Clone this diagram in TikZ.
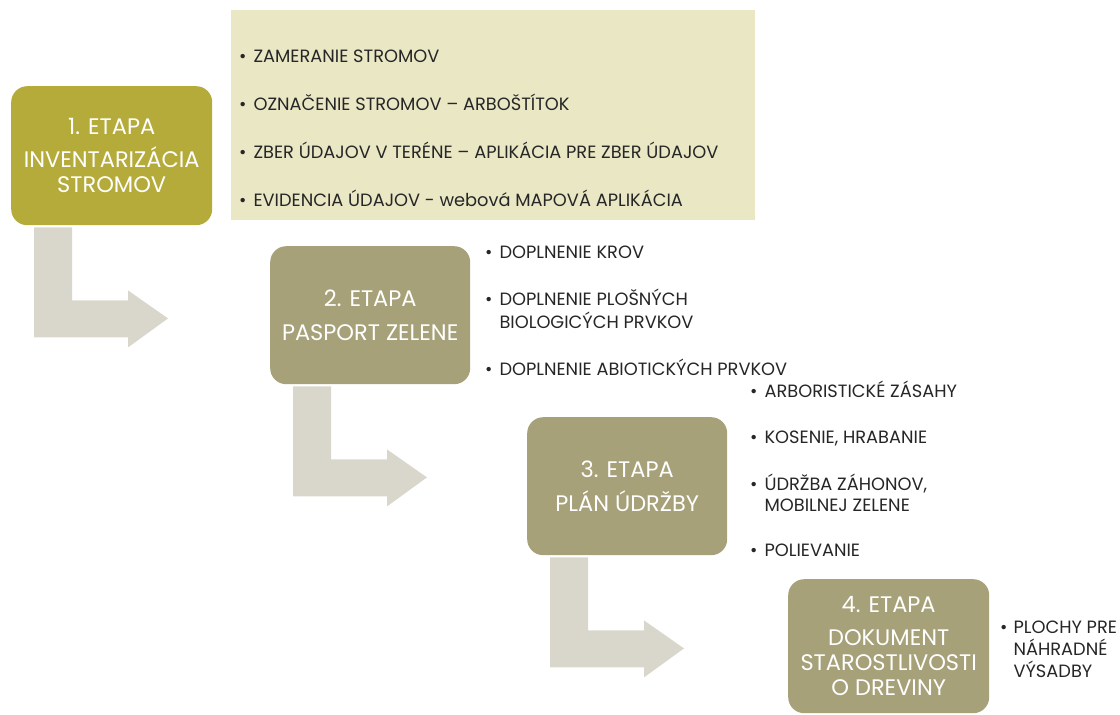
\documentclass[tikz,border=0pt]{standalone}
\usepackage{fontspec}
\setmainfont{Poppins}
\usetikzlibrary{calc}
\definecolor{stageolive}{RGB}{181,171,59}
\definecolor{stagebrown}{RGB}{167,161,121}
\definecolor{panelyellow}{RGB}{234,231,197}
\definecolor{arrowgray}{RGB}{217,215,204}
\definecolor{tasktext}{RGB}{38,38,38}

\begin{document}
\begin{tikzpicture}[x=1pt, y=-1pt,
	stage/.style={rectangle,rounded corners=16pt,fill=stagebrown,text=white,anchor=north west,minimum width=200pt,minimum height=138pt,align=center,inner sep=0pt,font=\fontsize{22.5}{25}\selectfont},
	first_stage/.style={stage,fill=stageolive},
	task_list/.style={anchor=north west,inner sep=0pt,text=tasktext,font=\fontsize{17.8}{21}\selectfont},
	bent_arrow/.style={fill=arrowgray}]
	
	\useasboundingbox (0, 0) rectangle (1120, 715);
	
	\node[fill=panelyellow,anchor=north west,minimum width=524pt,minimum height=210pt,inner sep=0pt] (panel) at (231, 10) {};
	
	\node[first_stage,minimum width=201pt,minimum height=139pt] (s1) at (11, 86) {1. ETAPA\\[8pt]INVENTARIZÁCIA\\STROMOV};
	\node[stage] (s2) at (270, 246) {2. ETAPA\\[9pt]PASPORT ZELENE};
	\node[stage] (s3) at (527, 417) {3. ETAPA\\[9pt]PLÁN ÚDRŽBY};
	\node[stage,minimum width=201pt,minimum height=134pt] (s4) at (788, 579) {4. ETAPA\\[8pt]DOKUMENT\\STAROSTLIVOSTI\\O DREVINY};
	
	\node[task_list] (l1) at (239, 48) {\begin{tabular}{@{}l@{\hspace{7pt}}l@{}}
		• & ZAMERANIE STROMOV\\[25pt]
		• & OZNAČENIE STROMOV – ARBOŠTÍTOK\\[25pt]
		• & ZBER ÚDAJOV V TERÉNE – APLIKÁCIA PRE ZBER ÚDAJOV\\[25pt]
		• & EVIDENCIA ÚDAJOV - webová MAPOVÁ APLIKÁCIA
	\end{tabular}};
	\node[task_list] (l2) at (485, 244) {\begin{tabular}{@{}l@{\hspace{7pt}}l@{}}
		• & DOPLNENIE KROV\\[24pt]
		• & DOPLNENIE PLOŠNÝCH\\
		  & BIOLOGICÝCH PRVKOV\\[24pt]
		• & DOPLNENIE ABIOTICKÝCH PRVKOV
	\end{tabular}};
	\node[task_list] (l3) at (750, 381) {\begin{tabular}{@{}l@{\hspace{7pt}}l@{}}
		• & ARBORISTICKÉ ZÁSAHY\\[25pt]
		• & KOSENIE, HRABANIE\\[24pt]
		• & ÚDRŽBA ZÁHONOV,\\
		  & MOBILNEJ ZELENE\\[24pt]
		• & POLIEVANIE
	\end{tabular}};
	\node[task_list] (l4) at (1000, 619) {\begin{tabular}{@{}l@{\hspace{6pt}}l@{}}
		• & PLOCHY PRE\\[-1pt]
		  & NÁHRADNÉ\\[-1pt]
		  & VÝSADBY
	\end{tabular}};
	
	% bent arrows from one stage down to the next
	\fill[bent_arrow] ($(s1.south west)+(23,2)$) -- ++(38,0) -- ++(0,73) -- ++(56,0) -- ++(0,-10) -- ++(40,28) -- ++(-40,29) -- ++(0,-10) -- ++(-94,0) -- cycle;
	\fill[bent_arrow] ($(s2.south west)+(23,2)$) -- ++(38,0) -- ++(0,73) -- ++(56,0) -- ++(0,-10) -- ++(40,28) -- ++(-40,29) -- ++(0,-10) -- ++(-94,0) -- cycle;
	\fill[bent_arrow] ($(s3.south west)+(23,2)$) -- ++(38,0) -- ++(0,73) -- ++(56,0) -- ++(0,-10) -- ++(40,28) -- ++(-40,29) -- ++(0,-10) -- ++(-94,0) -- cycle;
\end{tikzpicture}
\end{document}
